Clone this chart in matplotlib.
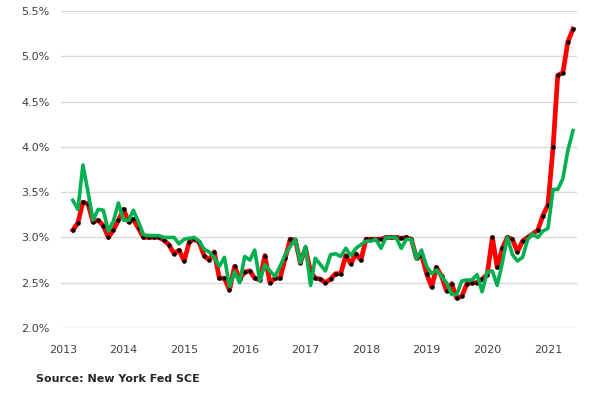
import numpy as np
import pandas as pd
import matplotlib
matplotlib.use('Agg')
import matplotlib.pyplot as plt
import matplotlib.dates as mdates
from matplotlib.ticker import FuncFormatter

# monthly observations, Mar 2013 - Jun 2021
months = pd.date_range('2013-03-01', periods=100, freq='MS')

red_vals = [
    3.08, 3.16, 3.39, 3.37, 3.17, 3.19, 3.13, 3.00, 3.08, 3.19,
    3.31, 3.17, 3.20, 3.10, 3.00, 3.00, 3.00, 3.00, 2.97, 2.92,
    2.82, 2.86, 2.74, 2.95, 2.98, 2.95, 2.80, 2.75, 2.84, 2.55,
    2.55, 2.42, 2.68, 2.54, 2.62, 2.63, 2.55, 2.53, 2.80, 2.50,
    2.55, 2.55, 2.77, 2.98, 2.97, 2.72, 2.88, 2.62, 2.55, 2.54,
    2.50, 2.54, 2.60, 2.60, 2.80, 2.71, 2.82, 2.75, 2.98, 2.98,
    2.98, 2.98, 3.00, 3.00, 3.00, 2.99, 3.00, 2.98, 2.77, 2.81,
    2.60, 2.45, 2.67, 2.57, 2.41, 2.49, 2.33, 2.35, 2.49, 2.50,
    2.50, 2.54, 2.59, 3.00, 2.67, 2.88, 3.00, 2.98, 2.84, 2.96,
    3.00, 3.04, 3.08, 3.24, 3.36, 4.00, 4.79, 4.82, 5.16, 5.30,
]

green_vals = [
    3.41, 3.31, 3.80, 3.50, 3.19, 3.31, 3.30, 3.07, 3.18, 3.38,
    3.19, 3.19, 3.30, 3.17, 3.03, 3.02, 3.02, 3.02, 3.00, 3.00,
    3.00, 2.93, 2.98, 2.99, 3.00, 2.96, 2.87, 2.84, 2.78, 2.68,
    2.78, 2.46, 2.62, 2.50, 2.79, 2.75, 2.86, 2.52, 2.70, 2.63,
    2.57, 2.68, 2.81, 2.90, 2.98, 2.72, 2.90, 2.47, 2.77, 2.70,
    2.63, 2.81, 2.82, 2.79, 2.88, 2.80, 2.88, 2.92, 2.96, 2.96,
    2.98, 2.88, 3.00, 3.00, 3.00, 2.88, 2.98, 2.98, 2.76, 2.86,
    2.68, 2.60, 2.64, 2.57, 2.50, 2.37, 2.37, 2.52, 2.53, 2.53,
    2.59, 2.40, 2.62, 2.63, 2.47, 2.72, 3.00, 2.81, 2.74, 2.78,
    2.98, 3.04, 3.00, 3.07, 3.10, 3.53, 3.53, 3.65, 3.96, 4.18,
]

year_ticks = pd.date_range('2013-01-01', '2021-01-01', freq='YS')
y_ticks = [2.0, 2.5, 3.0, 3.5, 4.0, 4.5, 5.0, 5.5]

fig = plt.figure(figsize=(6.0, 3.93), dpi=100)
ax = fig.add_axes([61/600, 65/393, 516/600, 317/393])

ax.plot(months, red_vals, color='#ff0000', linewidth=3.4, zorder=3,
        marker='o', markersize=2.2, markerfacecolor='black',
        markeredgecolor='black')
ax.plot(months, green_vals, color='#00b050', linewidth=2.6, zorder=4)

ax.set_ylim(2.0, 5.5)
ax.set_yticks(y_ticks)
ax.yaxis.set_major_formatter(FuncFormatter(lambda v, p: f'{v:.1f}%'))
ax.set_xticks(year_ticks)
ax.xaxis.set_major_formatter(mdates.DateFormatter('%Y'))
ax.set_xlim(pd.Timestamp('2012-12-20'), pd.Timestamp('2021-06-25'))

ax.grid(axis='y', color='#d9d9d9', linewidth=1.0)
ax.set_axisbelow(True)
for s in ax.spines.values():
    s.set_visible(False)
ax.tick_params(length=0, labelsize=8, colors='#404040', pad=8)
ax.tick_params(axis='x', pad=12)

fig.text(36/600, 1 - 379/393, 'Source: New York Fed SCE', fontsize=8,
         fontweight='bold', color='#262626', va='center', ha='left')

fig.savefig('out.png', dpi=100)
